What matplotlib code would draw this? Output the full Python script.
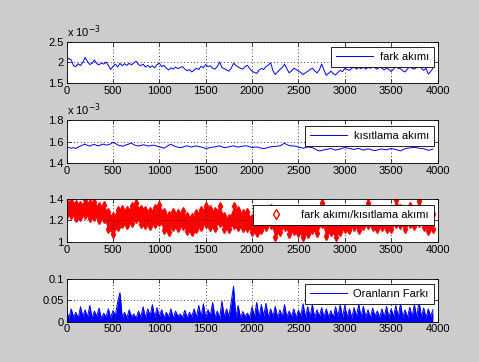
import numpy as np
import matplotlib.pyplot as plt
from matplotlib.lines import Line2D

plt.rcParams['font.family'] = ['Liberation Sans', 'DejaVu Sans']
plt.rcParams['font.size'] = 8

STEP = 25  # samples between stored readings

# fark akımı (x 1e-3), one reading every 25 samples
fark = [2.05, 2.10, 2.06, 1.92, 1.90, 1.97, 1.93, 2.00, 2.12, 2.02,
        1.95, 1.98, 2.06, 1.97, 1.94, 1.99, 1.96, 2.01, 1.93, 1.83,
        1.90, 1.96, 1.89, 1.98, 1.92, 1.97, 1.93, 1.98, 1.94, 1.99,
        2.03, 1.95, 1.92, 1.96, 1.89, 1.93, 1.88, 1.92, 1.87, 1.95,
        1.98, 1.90, 1.93, 1.86, 1.82, 1.87, 1.84, 1.89, 1.85, 1.88,
        1.90, 1.84, 1.80, 1.83, 1.77, 1.82, 1.86, 1.83, 1.91, 1.87,
        1.95, 1.90, 1.92, 1.86, 1.84, 1.90, 2.01, 1.88, 1.85, 1.82,
        1.79, 1.86, 1.98, 1.93, 1.89, 1.86, 1.84, 1.90, 1.93, 1.85,
        1.79, 1.76, 1.74, 1.81, 1.86, 1.83, 1.90, 1.94, 1.99, 1.80,
        1.71, 1.77, 1.83, 1.88, 1.96, 1.85, 1.75, 1.80, 1.86, 1.83,
        1.79, 1.76, 1.71, 1.75, 1.79, 1.83, 1.86, 1.80, 1.75, 1.82,
        1.96, 1.82, 1.69, 1.74, 1.79, 1.73, 1.70, 1.76, 1.81, 1.78,
        1.86, 1.83, 1.81, 1.86, 1.89, 1.84, 1.88, 1.85, 1.90, 1.84,
        1.88, 1.86, 1.91, 1.87, 1.84, 1.89, 1.86, 1.82, 1.87, 1.83,
        1.78, 1.84, 1.91, 1.86, 1.85, 1.80, 1.77, 1.84, 1.91, 1.86,
        1.84, 1.88, 1.93, 1.86, 1.81, 1.86, 1.72, 1.78, 1.86]

# kısıtlama akımı (x 1e-3)
kisit = [1.555, 1.545, 1.540, 1.545, 1.538, 1.550, 1.560, 1.570, 1.578, 1.565,
         1.560, 1.570, 1.575, 1.565, 1.562, 1.572, 1.578, 1.568, 1.572, 1.580,
         1.595, 1.585, 1.570, 1.565, 1.558, 1.565, 1.572, 1.580, 1.588, 1.572,
         1.565, 1.560, 1.565, 1.572, 1.568, 1.560, 1.563, 1.568, 1.565, 1.558,
         1.552, 1.548, 1.540, 1.552, 1.568, 1.575, 1.565, 1.555, 1.550, 1.545,
         1.548, 1.558, 1.562, 1.555, 1.550, 1.558, 1.562, 1.555, 1.552, 1.545,
         1.538, 1.540, 1.546, 1.550, 1.552, 1.558, 1.562, 1.552, 1.545, 1.548,
         1.552, 1.558, 1.562, 1.555, 1.550, 1.556, 1.558, 1.562, 1.560, 1.552,
         1.545, 1.550, 1.552, 1.545, 1.540, 1.536, 1.540, 1.548, 1.552, 1.556,
         1.555, 1.560, 1.562, 1.572, 1.588, 1.572, 1.565, 1.560, 1.562, 1.556,
         1.550, 1.546, 1.540, 1.545, 1.552, 1.548, 1.545, 1.535, 1.522, 1.515,
         1.518, 1.525, 1.528, 1.532, 1.538, 1.530, 1.522, 1.528, 1.532, 1.540,
         1.546, 1.542, 1.538, 1.532, 1.528, 1.535, 1.538, 1.530, 1.522, 1.528,
         1.534, 1.528, 1.522, 1.518, 1.522, 1.530, 1.532, 1.528, 1.525, 1.532,
         1.538, 1.532, 1.528, 1.522, 1.515, 1.525, 1.536, 1.540, 1.542, 1.546,
         1.548, 1.544, 1.540, 1.538, 1.535, 1.528, 1.520, 1.525, 1.532]

# fark/kısıtlama band, upper and lower edge every 50 samples
RSTEP = 50
oran_ust = [1.36, 1.41, 1.35, 1.34, 1.40, 1.36, 1.37, 1.33, 1.34, 1.28,
            1.24, 1.30, 1.31, 1.30, 1.33, 1.36, 1.31, 1.30, 1.29, 1.32,
            1.34, 1.28, 1.25, 1.28, 1.27, 1.29, 1.24, 1.23, 1.27, 1.30,
            1.33, 1.31, 1.29, 1.33, 1.24, 1.22, 1.33, 1.30, 1.27, 1.28,
            1.22, 1.20, 1.25, 1.28, 1.32, 1.20, 1.24, 1.30, 1.23, 1.26,
            1.24, 1.20, 1.23, 1.27, 1.22, 1.36, 1.20, 1.24, 1.20, 1.24,
            1.28, 1.27, 1.30, 1.27, 1.30, 1.36, 1.29, 1.27, 1.30, 1.27,
            1.25, 1.39, 1.32, 1.27, 1.33, 1.31, 1.38, 1.30, 1.25, 1.26]
oran_alt = [1.26, 1.25, 1.22, 1.23, 1.25, 1.22, 1.23, 1.20, 1.21, 1.12,
            1.07, 1.14, 1.17, 1.16, 1.18, 1.21, 1.17, 1.16, 1.15, 1.17,
            1.19, 1.11, 1.09, 1.14, 1.13, 1.15, 1.10, 1.09, 1.12, 1.14,
            1.17, 1.14, 1.13, 1.18, 1.12, 1.12, 1.16, 1.14, 1.13, 1.13,
            1.09, 1.08, 1.11, 1.14, 1.16, 1.05, 1.09, 1.14, 1.07, 1.10,
            1.08, 1.05, 1.07, 1.11, 1.08, 1.17, 1.06, 1.09, 1.05, 1.09,
            1.12, 1.11, 1.14, 1.11, 1.15, 1.16, 1.14, 1.12, 1.14, 1.12,
            1.12, 1.17, 1.16, 1.12, 1.17, 1.15, 1.18, 1.14, 1.10, 1.12]

# Oranların Farkı (x 1e-3)
fark_oran = [25, 9, 30, 11, 22, 8, 35, 12, 28, 10, 38, 9, 25, 13, 32, 8, 20, 11, 30, 9,
             26, 14, 45, 68, 10, 22, 9, 28, 12, 18, 8, 25, 11, 35, 9, 30, 14, 40, 10, 33,
             12, 28, 9, 22, 11, 30, 8, 25, 13, 18, 10, 27, 9, 22, 12, 30, 10, 38, 11, 42,
             9, 28, 14, 45, 10, 25, 8, 48, 11, 30, 12, 46, 83, 10, 38, 9, 24, 12, 20, 10,
             35, 11, 45, 9, 40, 13, 43, 10, 30, 12, 36, 9, 28, 11, 40, 10, 25, 12, 30, 9,
             27, 14, 42, 10, 35, 11, 40, 9, 28, 12, 33, 10, 30, 11, 26, 9, 35, 12, 40, 10,
             38, 11, 30, 9, 33, 12, 41, 10, 36, 11, 28, 9, 32, 13, 25, 10, 30, 11, 36, 9,
             30, 12, 38, 10, 42, 11, 28, 9, 34, 12, 40, 10, 48, 11, 32, 9, 30, 12, 28]

t = np.arange(len(fark)) * STEP
tr = np.arange(len(oran_ust)) * RSTEP

fig = plt.figure(figsize=(4.79, 3.62), dpi=100)
fig.patch.set_facecolor('#cccccc')

L, W = 0.139, 0.7745
rects = [(L, 0.770, W, 0.115), (L, 0.549, W, 0.119),
         (L, 0.3315, W, 0.119), (L, 0.1113, W, 0.118)]
axes = [fig.add_axes(r) for r in rects]

def style(ax, ylim, yticks, ytl):
    ax.set_xlim(0, 4000)
    ax.set_xticks(range(0, 4001, 500))
    ax.set_ylim(*ylim)
    ax.set_yticks(yticks)
    ax.set_yticklabels(ytl)
    ax.tick_params(direction='in', top=True, right=True, length=3, width=0.5,
                   labelsize=8, pad=2)
    ax.grid(True, color='black', linestyle=(0, (1, 3)), linewidth=0.6)
    for s in ax.spines.values():
        s.set_linewidth(0.6)

def leg(ax, handles, labels, ytop):
    lg = ax.legend(handles, labels, loc='upper right', bbox_to_anchor=(0.99, ytop),
                   borderaxespad=0, fancybox=False, framealpha=1, edgecolor='black',
                   fontsize=8, handlelength=3.3, borderpad=0.45, handletextpad=0.6)
    lg.get_frame().set_linewidth(0.6)

ax = axes[0]
l1, = ax.plot(t, fark, color='blue', lw=0.7)
style(ax, (1.5, 2.5), [1.5, 2, 2.5], ['1.5', '2', '2.5'])
ax.text(0, 1.04, r'x 10$^{-3}$', transform=ax.transAxes, fontsize=8, va='bottom')
leg(ax, [l1], ['fark akımı'], 0.88)

ax = axes[1]
l2, = ax.plot(t, kisit, color='blue', lw=0.7)
style(ax, (1.4, 1.8), [1.4, 1.6, 1.8], ['1.4', '1.6', '1.8'])
ax.text(0, 1.04, r'x 10$^{-3}$', transform=ax.transAxes, fontsize=8, va='bottom')
leg(ax, [l2], ['kısıtlama akımı'], 0.867)

ax = axes[2]
ax.fill_between(tr, oran_alt, oran_ust, color='red', lw=0)
ax.plot(tr, oran_ust, 'd', color='red', mfc='red', ms=4)
ax.plot(tr, oran_alt, 'd', color='red', mfc='red', ms=4)
style(ax, (1.0, 1.4), [1.0, 1.2, 1.4], ['1', '1.2', '1.4'])
h3 = Line2D([], [], color='red', marker='d', mfc='white', ls='none', ms=5)
leg(ax, [h3], ['fark akımı/kısıtlama akımı'], 0.86)

ax = axes[3]
y4 = np.array(fark_oran) / 1000.0
ax.fill_between(t, 0, y4, color='blue', lw=0)
l4, = ax.plot(t, y4, color='blue', lw=0.7)
style(ax, (0, 0.1), [0, 0.05, 0.1], ['0', '0.05', '0.1'])
leg(ax, [l4], ['Oranların Farkı'], 0.89)

fig.savefig('out.png', dpi=100, facecolor=fig.get_facecolor())
